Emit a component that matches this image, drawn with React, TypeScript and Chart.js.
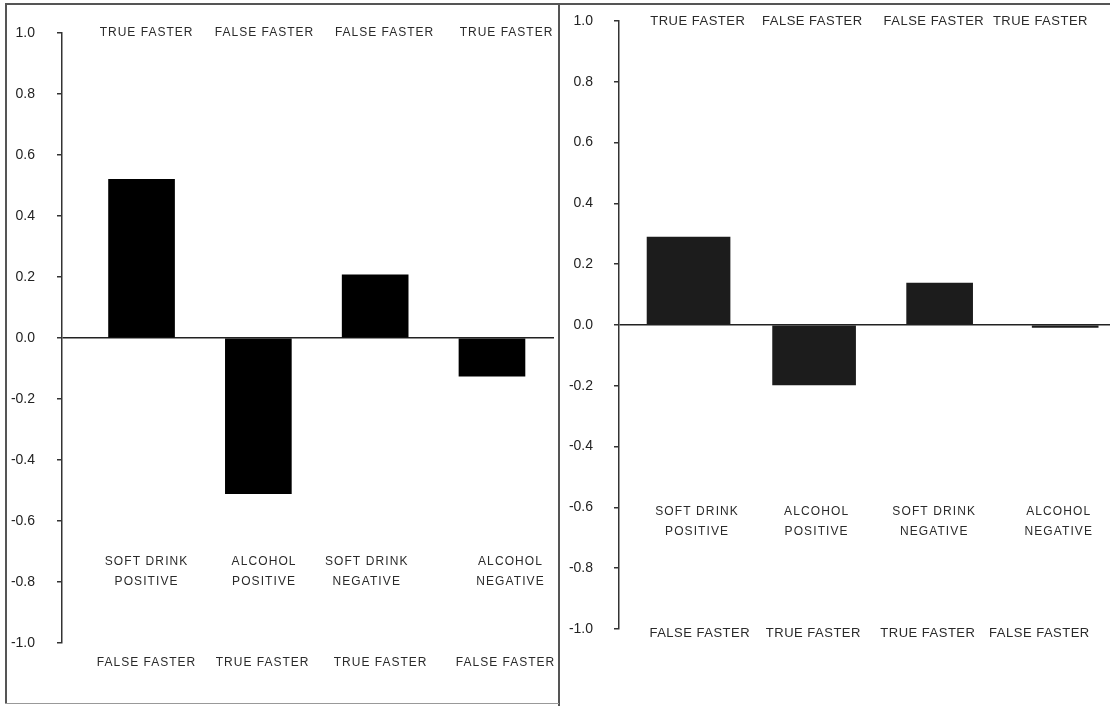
import React, { useEffect, useRef } from "react";
import { Chart, registerables } from "chart.js";

Chart.register(...registerables);

// ---- data ----
const categories = ["SOFT DRINK\nPOSITIVE", "ALCOHOL\nPOSITIVE", "SOFT DRINK\nNEGATIVE", "ALCOHOL\nNEGATIVE"];
const topLabels = ["TRUE FASTER", "FALSE FASTER", "FALSE FASTER", "TRUE FASTER"];
const bottomLabels = ["FALSE FASTER", "TRUE FASTER", "TRUE FASTER", "FALSE FASTER"];
const leftValues = [0.52, -0.51, 0.207, -0.125];
const rightValues = [0.289, -0.197, 0.138, -0.008];
const yMin = -1.0;
const yMax = 1.0;
const yStep = 0.2;

const FONT = "'Liberation Sans', Arial, Helvetica, sans-serif";

const labelPlugin = {
  id: "panelLabels",
  afterDraw(chart: any, _args: any, opts: any) {
    const { ctx } = chart;
    const xs = chart.scales.x;
    const ys = chart.scales.y;
    (opts.rows || []).forEach((row: any) => {
      ctx.save();
      ctx.font = row.font;
      ctx.fillStyle = row.color;
      try {
        (ctx as any).letterSpacing = row.spacing + "px";
      } catch (e) {}
      ctx.textAlign = "center";
      ctx.textBaseline = "middle";
      row.texts.forEach((t: string, i: number) => {
        const lines = t.split("\n");
        const cx = xs.getPixelForValue(i + 1) + row.dx[i] + row.spacing / 2;
        const cy = ys.getPixelForValue(row.yv);
        lines.forEach((ln: string, j: number) => {
          ctx.fillText(ln, cx, cy + j * row.lineH);
        });
      });
      ctx.restore();
    });
  },
};

function makeConfig(p: any) {
  return {
    type: "bar",
    data: { datasets: p.datasets },
    options: {
      animation: false,
      responsive: false,
      maintainAspectRatio: false,
      events: [],
      layout: { padding: p.padding },
      plugins: {
        legend: { display: false },
        tooltip: { enabled: false },
        panelLabels: { rows: p.rows },
      },
      scales: {
        x: { type: "linear", display: false, min: p.xMin, max: p.xMax, offset: false },
        y: {
          min: yMin,
          max: yMax,
          ticks: {
            stepSize: yStep,
            padding: p.tickPad,
            color: "#222",
            font: { family: FONT, size: 14 },
            callback: (v: any) => Number(v).toFixed(1),
          },
          grid: {
            color: (c: any) =>
              c.tick && Math.abs(c.tick.value) < 1e-9 ? "#222" : "rgba(0,0,0,0)",
            tickColor: "#333",
            tickLength: 5,
            lineWidth: 1.5,
            drawOnChartArea: true,
          },
          border: { display: true, color: "#333", width: 1.5 },
          afterFit: (s: any) => {
            s.width = p.axisWidth;
            s.paddingTop = 0;
            s.paddingBottom = 0;
          },
        },
      },
    },
    plugins: [labelPlugin],
  };
}

function Panel(props: { width: number; height: number; left: number; cfg: any }) {
  const ref = useRef<HTMLCanvasElement | null>(null);
  useEffect(() => {
    if (!ref.current) return;
    const chart = new Chart(ref.current, props.cfg);
    return () => chart.destroy();
  }, []);
  return (
    <canvas
      ref={ref}
      width={props.width}
      height={props.height}
      style={{ position: "absolute", left: props.left, top: 0, width: props.width, height: props.height }}
    />
  );
}

const leftCfg = makeConfig({
  padding: { top: 33, bottom: 63, left: 0, right: 5 },
  xMin: 0.319,
  xMax: 4.531,
  tickPad: 22,
  axisWidth: 62,
  datasets: [
    {
      data: leftValues.map((v, i) => ({ x: i + 1, y: v })),
      backgroundColor: "#000",
      borderWidth: 0,
      barThickness: 66,
      grouped: false,
    },
  ],
  rows: [
    { texts: topLabels, yv: 1.0, lineH: 0, font: `12px ${FONT}`, spacing: 1.0, color: "#2a2a2a", dx: [4.5, 5.7, 8.9, 14] },
    { texts: categories, yv: -0.734, lineH: 20, font: `12px ${FONT}`, spacing: 1.1, color: "#2a2a2a", dx: [4.5, 5.2, -9, 18] },
    { texts: bottomLabels, yv: -1.066, lineH: 0, font: `12px ${FONT}`, spacing: 1.0, color: "#2a2a2a", dx: [4.5, 3.7, 4.9, 13] },
  ],
});

const rightCfg = makeConfig({
  padding: { top: 21, bottom: 77, left: 0, right: 0 },
  xMin: 0.446,
  xMax: 4.357,
  tickPad: 21,
  axisWidth: 59,
  datasets: [
    {
      data: rightValues.map((v, i) => ({ x: i + 1, y: i < 2 ? v : null })),
      backgroundColor: "#1c1c1c",
      borderWidth: 0,
      barThickness: 83,
      grouped: false,
    },
    {
      data: rightValues.map((v, i) => ({ x: i + 1, y: i >= 2 ? v : null })),
      backgroundColor: "#1c1c1c",
      borderWidth: 0,
      barThickness: 66,
      grouped: false,
    },
  ],
  rows: [
    { texts: topLabels, yv: 1.0, lineH: 0, font: `13px ${FONT}`, spacing: 0.5, color: "#2a2a2a", dx: [9, -2, -6, -25] },
    { texts: categories, yv: -0.615, lineH: 20, font: `12px ${FONT}`, spacing: 1.1, color: "#2a2a2a", dx: [8, 2, -6, -7] },
    { texts: bottomLabels, yv: -1.016, lineH: 0, font: `13px ${FONT}`, spacing: 0.5, color: "#2a2a2a", dx: [11, -1, -12, -26] },
  ],
});

export default function App() {
  const line = "#555";
  return (
    <div
      style={{
        position: "fixed",
        left: 0,
        top: 0,
        width: 1110,
        height: 706,
        background: "#fff",
        overflow: "hidden",
      }}
    >
      <Panel width={559} height={706} left={0} cfg={leftCfg} />
      <Panel width={550} height={706} left={560} cfg={rightCfg} />
      {/* frame lines */}
      <div style={{ position: "absolute", left: 6, top: 3, width: 1104, height: 2, background: line }} />
      <div style={{ position: "absolute", left: 5, top: 3, width: 2, height: 701, background: line }} />
      <div style={{ position: "absolute", left: 558, top: 3, width: 2, height: 703, background: line }} />
      <div style={{ position: "absolute", left: 5, top: 703, width: 554, height: 1, background: "#999" }} />
    </div>
  );
}
